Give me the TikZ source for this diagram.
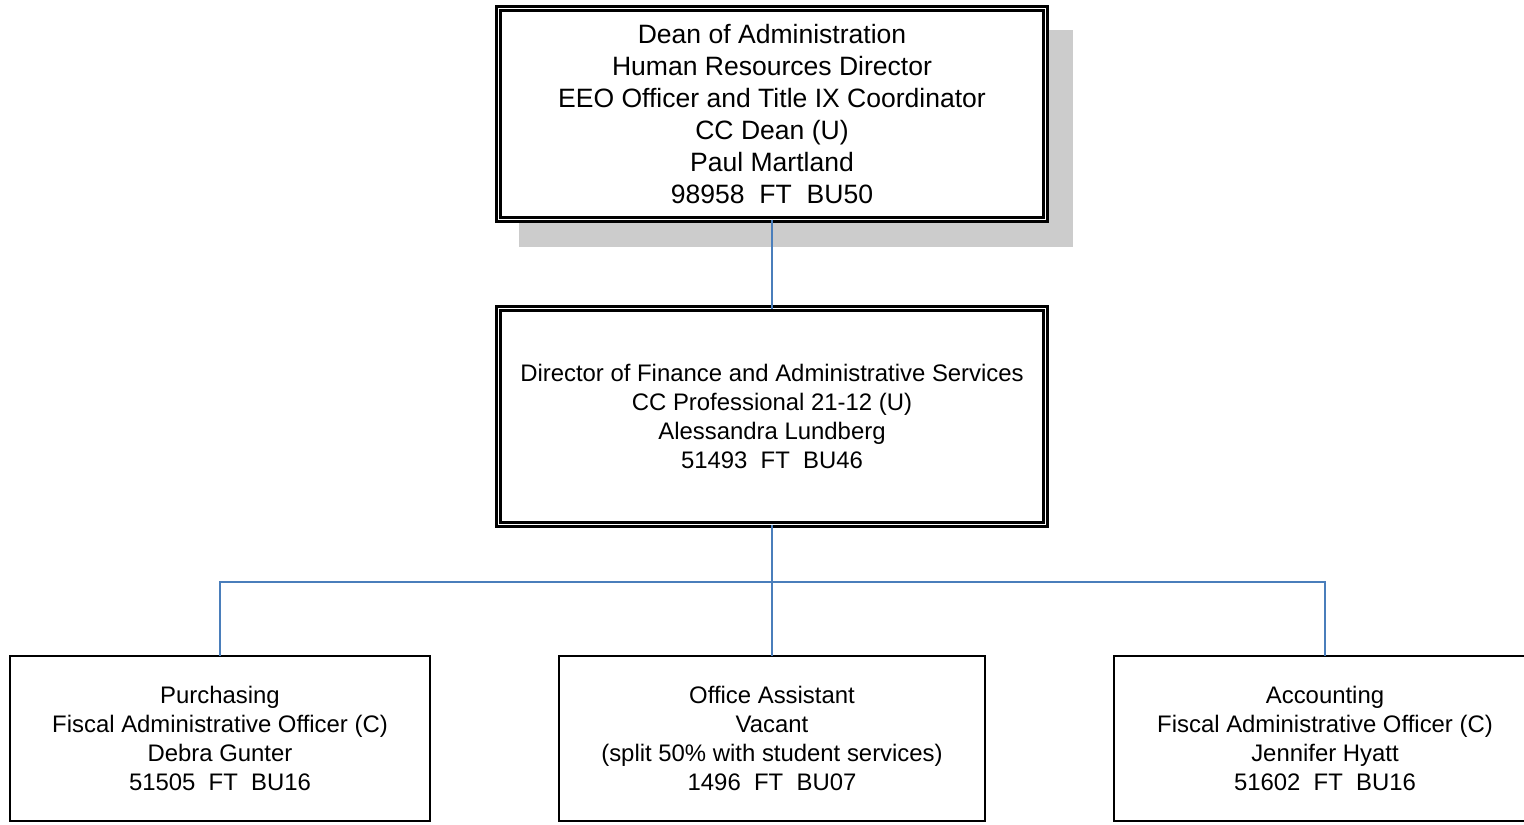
\documentclass[tikz,border=0pt]{standalone}
\usepackage{fontspec}
\setmainfont{Liberation Sans}
\usetikzlibrary{positioning,calc,backgrounds}
\definecolor{linkblue}{HTML}{4A7EBB}
\definecolor{shadowgray}{HTML}{CCCCCC}

\begin{document}
\begin{tikzpicture}[
  headbox/.style={draw=black, fill=white, double=white, line width=1.3pt, double distance=1.1pt,
                  minimum width=10.94cm, minimum height=4.22cm, align=center,
                  inner sep=0pt, outer sep=0pt},
  staffbox/.style={draw=black, line width=0.9pt, minimum height=3.3cm, align=center,
                   font=\fontsize{13.6}{16.5}\selectfont, inner sep=0pt, outer sep=0pt},
  link/.style={draw=linkblue, line width=1.1pt}
]
  \useasboundingbox (0,0) rectangle (30.48,-16.48);

  \node[headbox, font=\fontsize{15.1}{18.3}\selectfont] (dean) at (15.44,-2.28)
    {Dean of Administration\\Human Resources Director\\EEO Officer and Title IX Coordinator\\
     CC Dean (U)\\Paul Martland\\98958\ \ FT\ \ BU50};
  \node[headbox, minimum height=4.32cm, font=\fontsize{13.6}{16.5}\selectfont,
        below=1.78cm of dean] (dir)
    {Director of Finance and Administrative Services\\CC Professional 21-12 (U)\\
     Alessandra Lundberg\\51493\ \ FT\ \ BU46};

  \node[staffbox, minimum width=8.52cm, below=2.63cm of dir] (office)
    {Office Assistant\\Vacant\\(split 50\% with student services)\\1496\ \ FT\ \ BU07};
  \node[staffbox, minimum width=8.4cm, left=2.58cm of office] (purch)
    {Purchasing\\Fiscal Administrative Officer (C)\\Debra Gunter\\51505\ \ FT\ \ BU16};
  \node[staffbox, minimum width=8.44cm, right=2.58cm of office] (acct)
    {Accounting\\Fiscal Administrative Officer (C)\\Jennifer Hyatt\\51602\ \ FT\ \ BU16};

  % shadow behind the top box
  \begin{scope}[on background layer]
    \fill[shadowgray] ($(dean.south west)+(0.41,-0.55)$) rectangle ($(dean.north east)+(0.55,-0.43)$);
  \end{scope}

  \coordinate (bus) at ($(dir.south)!0.437!(office.north)$);
  \draw[link] (dean) -- (dir);
  \draw[link] (dir) -- (office);
  \draw[link] (purch.north) |- (bus) -| (acct.north);
\end{tikzpicture}
\end{document}
